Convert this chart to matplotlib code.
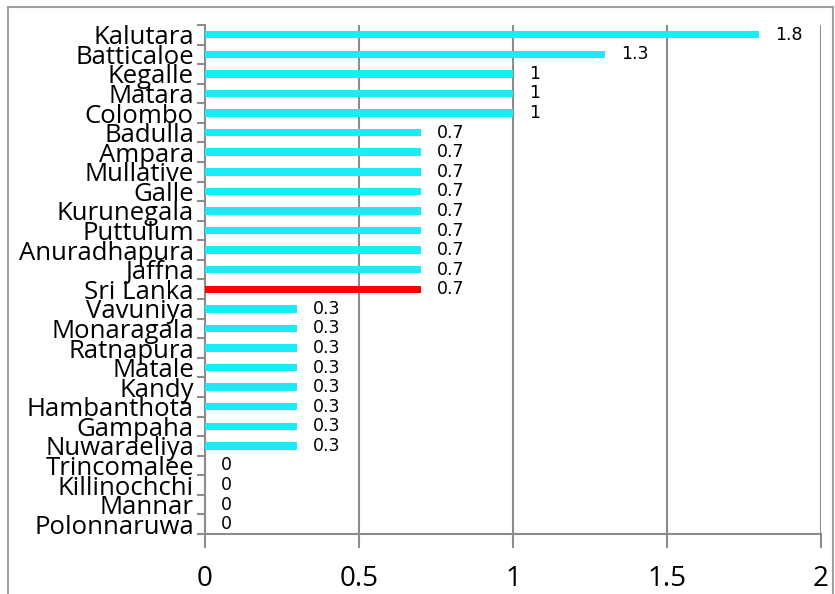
import matplotlib
matplotlib.use("Agg")
import matplotlib.pyplot as plt
from matplotlib.patches import Rectangle

districts = ["Kalutara", "Batticaloe", "Kegalle", "Matara", "Colombo", "Badulla",
             "Ampara", "Mullative", "Galle", "Kurunegala", "Puttulum", "Anuradhapura",
             "Jaffna", "Sri Lanka", "Vavuniya", "Monaragala", "Ratnapura", "Matale",
             "Kandy", "Hambanthota", "Gampaha", "Nuwaraeliya", "Trincomalee",
             "Killinochchi", "Mannar", "Polonnaruwa"]
values = [1.8, 1.3, 1, 1, 1, 0.7, 0.7, 0.7, 0.7, 0.7, 0.7, 0.7, 0.7, 0.7,
          0.3, 0.3, 0.3, 0.3, 0.3, 0.3, 0.3, 0.3, 0, 0, 0, 0]
value_labels = ["1.8", "1.3", "1", "1", "1", "0.7", "0.7", "0.7", "0.7", "0.7",
                "0.7", "0.7", "0.7", "0.7", "0.3", "0.3", "0.3", "0.3", "0.3",
                "0.3", "0.3", "0.3", "0", "0", "0", "0"]
x_ticks = [0, 0.5, 1, 1.5, 2]
x_tick_labels = ["0", "0.5", "1", "1.5", "2"]

CYAN = "#19ECF5"
RED = "#FF0000"
GRID = "#8C8C8C"

fig = plt.figure(figsize=(8.35, 5.94), dpi=100)
ax = fig.add_axes([0.2455, 0.101, 0.7375, 0.857])

n = len(districts)
ypos = list(range(n))
colors = [RED if d == "Sri Lanka" else CYAN for d in districts]
ax.barh(ypos, values, height=0.38, color=colors, zorder=3)

for y, v, lab in zip(ypos, values, value_labels):
    ax.annotate(lab, (v, y), xytext=(11.5, 0), textcoords="offset points",
                va="center", ha="left", fontsize=12.5, color="black",
                family="DejaVu Sans")

ax.set_xlim(0, 2)
ax.set_ylim(n - 0.5, -0.5)

ax.set_yticks(ypos)
ax.set_yticklabels(districts, fontsize=18.5, family="Open Sans")
ax.tick_params(axis="y", length=0, pad=8)
ax.set_yticks([i - 0.5 for i in range(n + 1)], minor=True)
ax.tick_params(axis="y", which="minor", length=6, width=1.5, color=GRID)

ax.set_xticks(x_ticks)
ax.set_xticklabels(x_tick_labels, fontsize=20, family="Open Sans")
ax.tick_params(axis="x", length=10, width=1.5, color=GRID, pad=12)

ax.grid(axis="x", color=GRID, linewidth=1.5, zorder=0)
for s in ["top", "right"]:
    ax.spines[s].set_visible(False)
for s in ["left", "bottom"]:
    ax.spines[s].set_color(GRID)
    ax.spines[s].set_linewidth(1.5)

fig.patches.append(Rectangle((8 / 835, -0.02), 825 / 835, 1.02 - 7 / 594,
                             transform=fig.transFigure, fill=False,
                             edgecolor="#A0A0A0", linewidth=1.5))

fig.savefig("out.png", dpi=100)
